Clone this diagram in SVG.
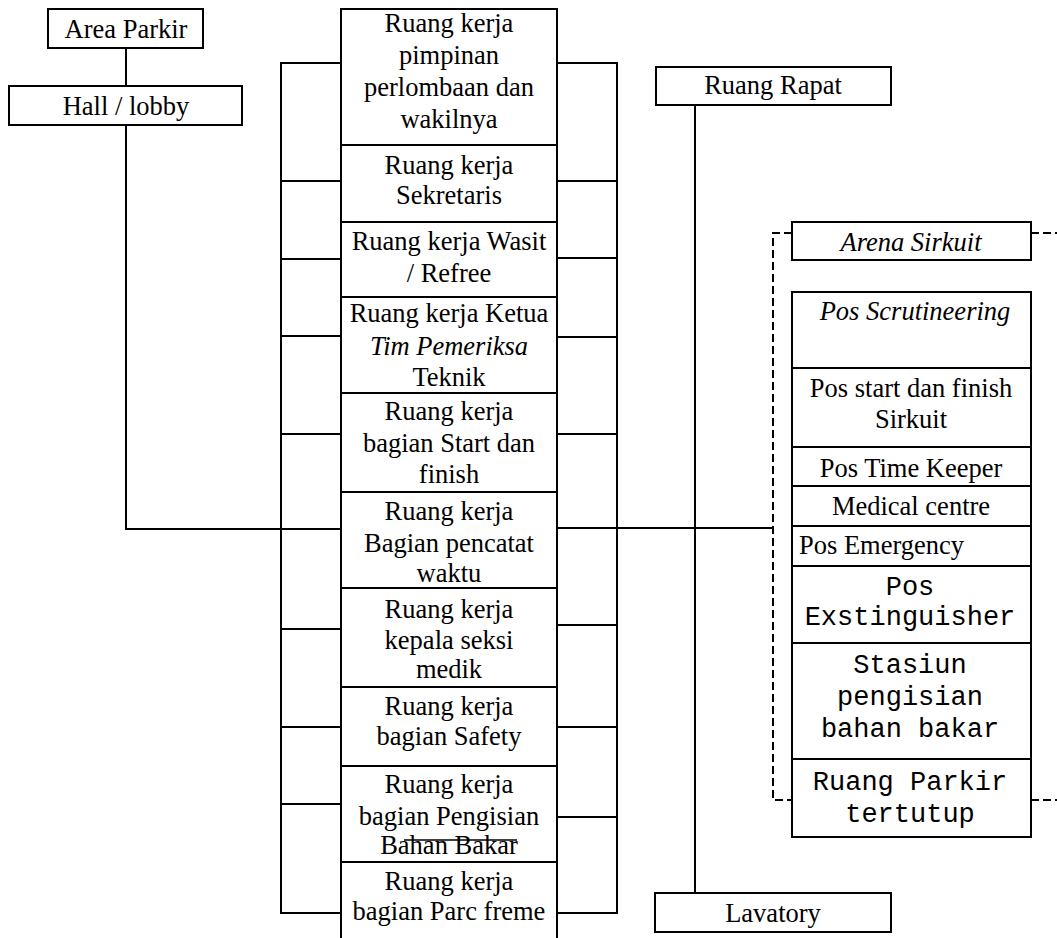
<svg xmlns="http://www.w3.org/2000/svg" width="1057" height="938" viewBox="0 0 1057 938">
<style>
.box{fill:#fff;stroke:#000;stroke-width:2}
.ln{fill:none;stroke:#000;stroke-width:2}
.dash{fill:none;stroke:#000;stroke-width:2;stroke-dasharray:8 4}
.t{font-family:"Liberation Serif","Times New Roman",serif;font-size:26.5px;fill:#000;text-anchor:middle}
.m{font-family:"Liberation Mono","Courier New",monospace;font-size:27px;fill:#000;text-anchor:middle}
.i{font-style:italic}
</style>
<rect width="1057" height="938" fill="#fff"/>
<g id="connectors">
<line class="ln" x1="126" y1="48" x2="126" y2="86"/>
<polyline class="ln" points="126,125 126,529 281,529"/>
<line class="ln" x1="617" y1="528" x2="773" y2="528"/>
<line class="ln" x1="695" y1="105" x2="695" y2="893"/>
<polyline class="dash" points="792,233 773,233 773,800 792,800"/>
<line class="dash" x1="1031" y1="233" x2="1057" y2="233"/>
<line class="dash" x1="1031" y1="800" x2="1057" y2="800"/>
</g>
<g id="left-strip">
<rect class="box" x="281" y="63" width="60" height="850"/>
<line class="ln" x1="281" y1="181" x2="341" y2="181"/>
<line class="ln" x1="281" y1="259" x2="341" y2="259"/>
<line class="ln" x1="281" y1="336" x2="341" y2="336"/>
<line class="ln" x1="281" y1="434" x2="341" y2="434"/>
<line class="ln" x1="281" y1="529" x2="341" y2="529"/>
<line class="ln" x1="281" y1="629" x2="341" y2="629"/>
<line class="ln" x1="281" y1="727" x2="341" y2="727"/>
<line class="ln" x1="281" y1="804" x2="341" y2="804"/>
</g>
<g id="right-strip">
<rect class="box" x="557" y="63" width="60" height="850"/>
<line class="ln" x1="557" y1="181" x2="617" y2="181"/>
<line class="ln" x1="557" y1="258" x2="617" y2="258"/>
<line class="ln" x1="557" y1="337" x2="617" y2="337"/>
<line class="ln" x1="557" y1="434" x2="617" y2="434"/>
<line class="ln" x1="557" y1="528" x2="617" y2="528"/>
<line class="ln" x1="557" y1="625" x2="617" y2="625"/>
<line class="ln" x1="557" y1="727" x2="617" y2="727"/>
<line class="ln" x1="557" y1="817" x2="617" y2="817"/>
</g>
<g id="area-parkir"><rect class="box" x="48" y="9" width="155" height="39"/><text class="t" x="126" y="38">Area Parkir</text></g>
<g id="hall-lobby"><rect class="box" x="9" y="86" width="233" height="39"/><text class="t" x="126" y="115">Hall / lobby</text></g>
<g id="c1"><rect class="box" x="341" y="9" width="216" height="136"/>
<text class="t"><tspan x="449" y="32">Ruang kerja</tspan><tspan x="449" y="64">pimpinan</tspan><tspan x="449" y="96">perlombaan dan</tspan><tspan x="449" y="128">wakilnya</tspan></text></g>
<g id="c2"><rect class="box" x="341" y="145" width="216" height="77"/>
<text class="t"><tspan x="449" y="174">Ruang kerja</tspan><tspan x="449" y="204">Sekretaris</tspan></text></g>
<g id="c3"><rect class="box" x="341" y="222" width="216" height="75"/>
<text class="t"><tspan x="449" y="250">Ruang kerja Wasit</tspan><tspan x="449" y="282">/ Refree</tspan></text></g>
<g id="c4"><rect class="box" x="341" y="297" width="216" height="96"/>
<text class="t"><tspan x="449" y="322">Ruang kerja Ketua</tspan><tspan x="449" y="355" class="i">Tim Pemeriksa</tspan><tspan x="449" y="386">Teknik</tspan></text></g>
<g id="c5"><rect class="box" x="341" y="393" width="216" height="99"/>
<text class="t"><tspan x="449" y="420">Ruang kerja</tspan><tspan x="449" y="452">bagian Start dan</tspan><tspan x="449" y="483">finish</tspan></text></g>
<g id="c6"><rect class="box" x="341" y="492" width="216" height="96"/>
<text class="t"><tspan x="449" y="520">Ruang kerja</tspan><tspan x="449" y="552">Bagian pencatat</tspan><tspan x="449" y="582">waktu</tspan></text></g>
<g id="c7"><rect class="box" x="341" y="588" width="216" height="99"/>
<text class="t"><tspan x="449" y="618">Ruang kerja</tspan><tspan x="449" y="649">kepala seksi</tspan><tspan x="449" y="678">medik</tspan></text></g>
<g id="c8"><rect class="box" x="341" y="687" width="216" height="79"/>
<text class="t"><tspan x="449" y="715">Ruang kerja</tspan><tspan x="449" y="745">bagian Safety</tspan></text></g>
<g id="c9"><rect class="box" x="341" y="766" width="216" height="96"/>
<text class="t"><tspan x="449" y="793">Ruang kerja</tspan><tspan x="449" y="825">bagian Pengisian</tspan><tspan x="449" y="854">Bahan Bakar</tspan></text>
<line x1="404" y1="840" x2="517" y2="840" stroke="#000" stroke-width="1.5"/></g>
<g id="c10"><rect class="box" x="341" y="862" width="216" height="90"/>
<text class="t"><tspan x="449" y="890">Ruang kerja</tspan><tspan x="449" y="920">bagian Parc freme</tspan></text></g>
<g id="ruang-rapat"><rect class="box" x="656" y="67" width="235" height="38"/><text class="t" x="773" y="94">Ruang Rapat</text></g>
<g id="lavatory"><rect class="box" x="655" y="893" width="236" height="39"/><text class="t" x="773" y="922">Lavatory</text></g>
<g id="arena-sirkuit"><rect class="box" x="792" y="222" width="239" height="38"/><text class="t i" x="911" y="251">Arena Sirkuit</text></g>
<g id="r1"><rect class="box" x="792" y="292" width="239" height="76"/><text class="t i" x="915" y="320">Pos Scrutineering</text></g>
<g id="r2"><rect class="box" x="792" y="368" width="239" height="79"/><text class="t"><tspan x="911" y="397">Pos start dan finish</tspan><tspan x="911" y="428">Sirkuit</tspan></text></g>
<g id="r3"><rect class="box" x="792" y="447" width="239" height="39"/><text class="t" x="911" y="477">Pos Time Keeper</text></g>
<g id="r4"><rect class="box" x="792" y="486" width="239" height="40"/><text class="t" x="911" y="515">Medical centre</text></g>
<g id="r5"><rect class="box" x="792" y="526" width="239" height="40"/><text class="t" x="799" y="554" style="text-anchor:start">Pos Emergency</text></g>
<g id="r6"><rect class="box" x="792" y="566" width="239" height="77"/><text class="m"><tspan x="910" y="595">Pos</tspan><tspan x="910" y="625">Exstinguisher</tspan></text></g>
<g id="r7"><rect class="box" x="792" y="643" width="239" height="116"/><text class="m"><tspan x="910" y="673">Stasiun</tspan><tspan x="910" y="705">pengisian</tspan><tspan x="910" y="737">bahan bakar</tspan></text></g>
<g id="r8"><rect class="box" x="792" y="759" width="239" height="78"/><text class="m"><tspan x="910" y="790">Ruang Parkir</tspan><tspan x="910" y="822">tertutup</tspan></text></g>
</svg>
